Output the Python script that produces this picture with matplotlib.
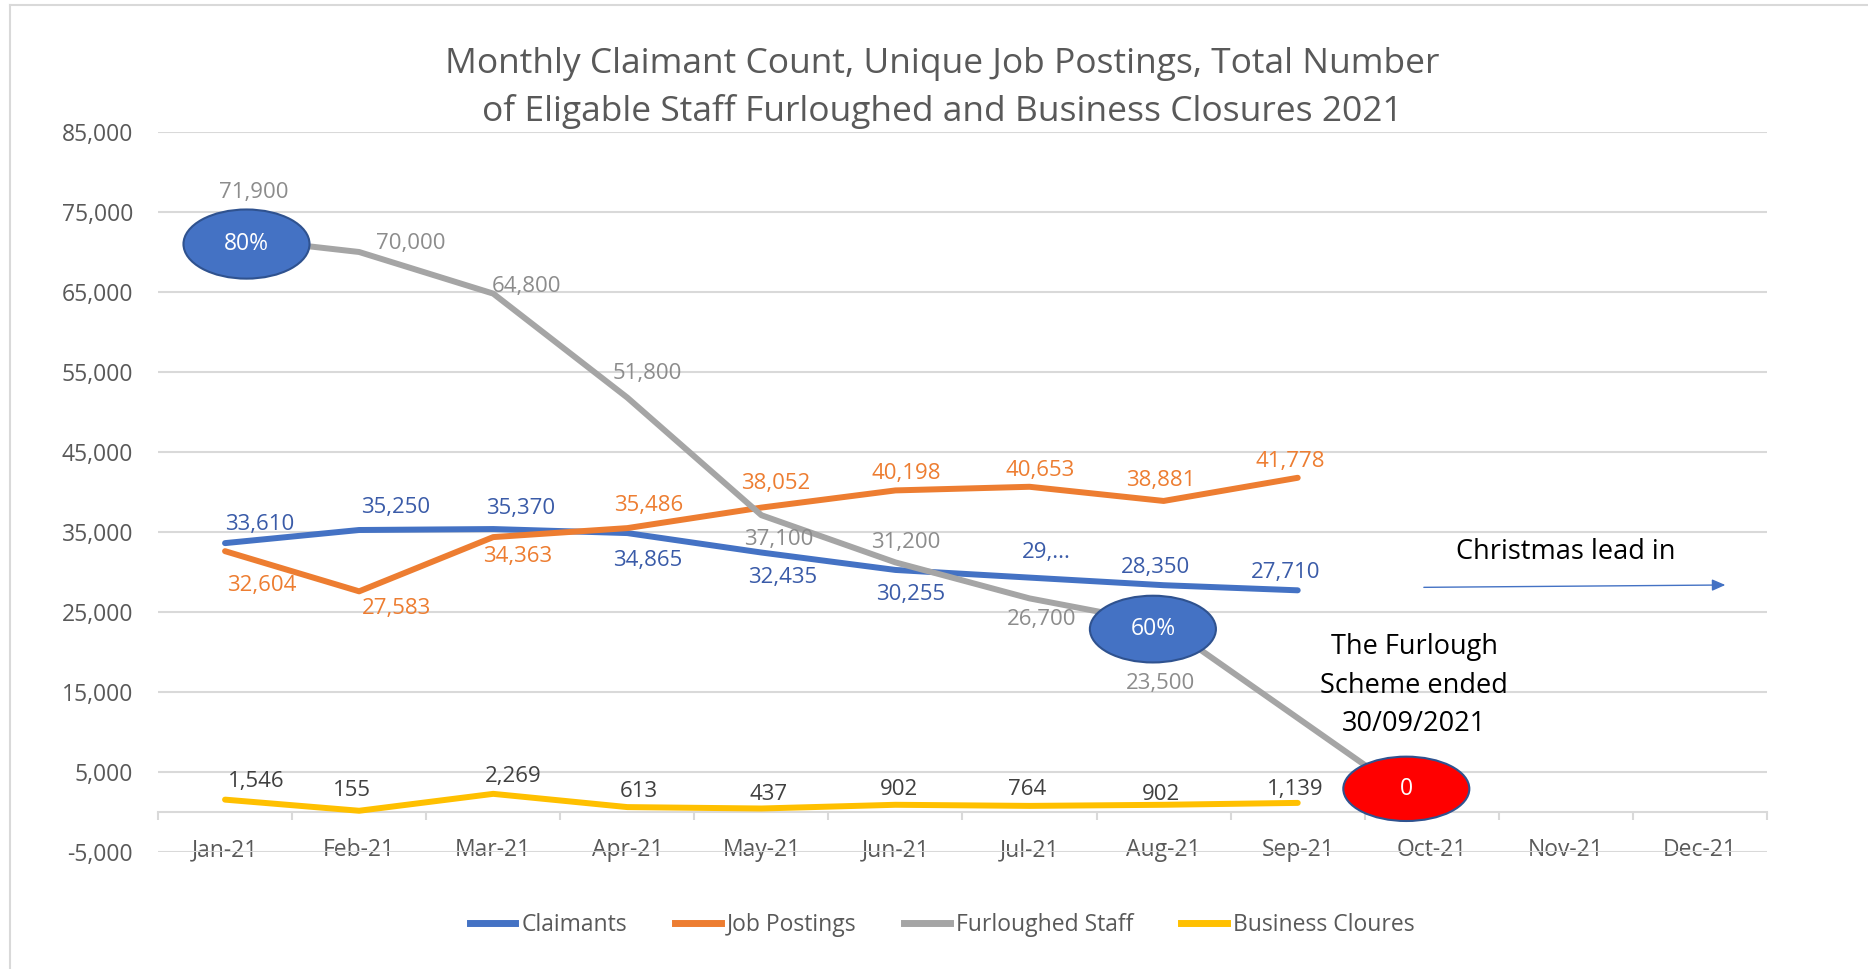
import numpy as np
import matplotlib.pyplot as plt
from matplotlib.patches import Ellipse
from matplotlib.lines import Line2D

plt.rcParams['font.family'] = ['Open Sans', 'DejaVu Sans']

# data
months = ["Jan-21", "Feb-21", "Mar-21", "Apr-21", "May-21", "Jun-21",
          "Jul-21", "Aug-21", "Sep-21", "Oct-21", "Nov-21", "Dec-21"]
claimants = [33610, 35250, 35370, 34865, 32435, 30255, 29300, 28350, 27710]
claimant_labels = ["33,610", "35,250", "35,370", "34,865", "32,435", "30,255",
                   "29,...", "28,350", "27,710"]
job_postings = [32604, 27583, 34363, 35486, 38052, 40198, 40653, 38881, 41778]
furlough_idx = [0, 1, 2, 3, 4, 5, 6, 7, 9]   # no value shown for Sep
furloughed = [71900, 70000, 64800, 51800, 37100, 31200, 26700, 23500, 0]
closures = [1546, 155, 2269, 613, 437, 902, 764, 902, 1139]

BLUE = "#4472C4"
ORANGE = "#ED7D31"
GREY = "#A5A5A5"
YELLOW = "#FFC000"
GRID = "#D9D9D9"
TXT = "#595959"

fig = plt.figure(figsize=(18.68, 9.69), dpi=100)
ax = fig.add_axes([158 / 1868, 117 / 969, 1609 / 1868, 720 / 969])

x = np.arange(len(claimants))
ax.plot(x, claimants, color=BLUE, lw=4.3, solid_capstyle="round", zorder=3)
ax.plot(x, job_postings, color=ORANGE, lw=4.3, solid_capstyle="round", zorder=3)
ax.plot(furlough_idx, furloughed, color=GREY, lw=4.3, solid_capstyle="round", zorder=3)
ax.plot(x, closures, color=YELLOW, lw=4.3, solid_capstyle="round", zorder=3)

# data labels (offsets in pixels)
fs = 16
cl_off = [(35, 19), (37, 23), (27, 21), (20, -27), (21, -25), (15, -25),
          (17, 25), (-8, 18), (-12, 18)]
jp_off = [(37, -34), (37, -17), (24, -19), (21, 23), (14, 24), (11, 17),
          (11, 16), (-3, 20), (-7, 16)]
fu_off = [(29, 44), (52, 8), (33, 7), (20, 24), (17, -24), (10, 20),
          (12, -21), (-3, -59)]
bc_off = [(31, 18), (-7, 20), (20, 17), (12, 16), (7, 14), (4, 15),
          (-2, 16), (-3, 10), (-2, 13)]

def lab(xv, yv, s, off, color):
    ax.annotate(s, (xv, yv), xytext=off, textcoords="offset pixels",
                ha="center", va="center", fontsize=fs, color=color, zorder=6)

for i, v in enumerate(claimants):
    lab(i, v, claimant_labels[i], cl_off[i], "#3A5BA8")
for i, v in enumerate(job_postings):
    lab(i, v, f"{v:,}", jp_off[i], ORANGE)
for k in range(len(fu_off)):
    lab(furlough_idx[k], furloughed[k], f"{furloughed[k]:,}", fu_off[k], "#8C8C8C")
for i, v in enumerate(closures):
    lab(i, v, f"{v:,}", bc_off[i], "#404040")

# callout ellipses
def bubble(xc, yc, h, text, face):
    e = Ellipse((xc, yc), 0.94, h, facecolor=face, edgecolor="#2F528F",
                lw=1.5, zorder=5)
    ax.add_patch(e)
    ax.text(xc, yc, text, ha="center", va="center", color="white",
            fontsize=16.5, zorder=6)

bubble(furlough_idx[0] + 0.16, furloughed[0] - 907, 8642, "80%", BLUE)
bubble(furlough_idx[7] - 0.08, furloughed[7] - 636, 8344, "60%", BLUE)
bubble(furlough_idx[8] - 0.19, furloughed[8] + 2897, 8046, "0", "#FF0000")

# annotations
ax.text(10.0, 32500, "Christmas lead in", ha="center", va="center",
        fontsize=19.5, color="black")
ax.annotate("", xy=(11.21, 28380), xytext=(8.92, 28080),
            arrowprops=dict(arrowstyle="-|>,head_length=0.8,head_width=0.35",
                            color=BLUE, lw=1))
ax.text(8.87, 15800, "The Furlough\nScheme ended\n30/09/2021", ha="center",
        va="center", fontsize=19.5, color="black", linespacing=1.5)

# axes
ax.set_xlim(-0.5, 11.5)
ax.set_ylim(-5000, 85000)
yt = np.arange(-5000, 85001, 10000)
ax.set_yticks(yt)
ax.set_yticklabels([f"{v:,}" for v in yt])
ax.tick_params(axis="y", length=0, pad=18, labelsize=16.5, labelcolor=TXT)
ax.grid(axis="y", color=GRID, lw=1.5, zorder=0)
ax.set_axisbelow(True)

ax.set_xticks(np.arange(12))
ax.set_xticklabels(months)
ax.set_xticks(np.arange(-0.5, 12, 1), minor=True)
ax.tick_params(axis="x", which="major", length=0, pad=19, labelsize=16.5,
               labelcolor=TXT)
ax.tick_params(axis="x", which="minor", length=6, width=1.5, color=GRID)
for s in ["top", "right", "left"]:
    ax.spines[s].set_visible(False)
ax.spines["bottom"].set_position(("data", 0))
ax.spines["bottom"].set_color(GRID)
ax.spines["bottom"].set_linewidth(1.5)

fig.text(942 / 1868, 0.909,
         "Monthly Claimant Count, Unique Job Postings, Total Number\n"
         "of Eligable Staff Furloughed and Business Closures 2021",
         ha="center", va="center", fontsize=25.5, color=TXT, linespacing=1.5)

handles = [Line2D([], [], color=c, lw=5) for c in (BLUE, ORANGE, GREY, YELLOW)]
fig.legend(handles, ["Claimants", "Job Postings", "Furloughed Staff",
                     "Business Cloures"],
           loc="center", bbox_to_anchor=(942 / 1868, 0.045), ncol=4,
           frameon=False, fontsize=16.5, labelcolor=TXT, handlelength=2.0,
           handletextpad=0.25, columnspacing=2.1)

# chart border
fig.add_artist(Line2D([10 / 1868, 10 / 1868], [0, 1 - 5 / 969],
                      transform=fig.transFigure, color=GRID, lw=1.5))
fig.add_artist(Line2D([10 / 1868, 1], [1 - 5 / 969, 1 - 5 / 969],
                      transform=fig.transFigure, color=GRID, lw=1.5))

fig.savefig("out.png", dpi=100)
